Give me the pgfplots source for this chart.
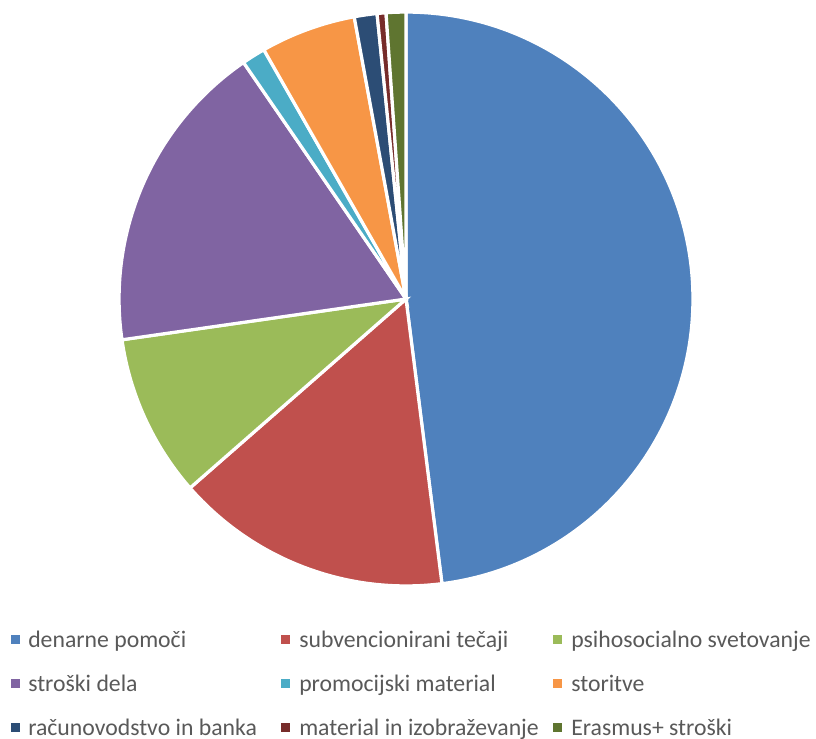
\documentclass[border=0pt]{standalone}
\usepackage{pgfplots}
\usepackage{pgfplotstable}
\pgfplotsset{compat=1.18}
\usepackage{fontspec}
\setmainfont{Carlito}

\definecolor{c0}{HTML}{4F81BD}
\definecolor{c1}{HTML}{C0504D}
\definecolor{c2}{HTML}{9BBB59}
\definecolor{c3}{HTML}{8064A2}
\definecolor{c4}{HTML}{4BACC6}
\definecolor{c5}{HTML}{F79646}
\definecolor{c6}{HTML}{2C4D75}
\definecolor{c7}{HTML}{772C2A}
\definecolor{c8}{HTML}{5F7530}
\definecolor{txt}{HTML}{595959}

% shares in percent, clockwise from 12 o'clock
\pgfplotstableread{
pct
48.00
15.56
9.17
17.69
1.33
5.36
1.28
0.50
1.11
}\pietable

\begin{document}
\begin{tikzpicture}
\begin{axis}[
    x=0.75pt, y=0.75pt,
    xmin=0, xmax=816, ymin=0, ymax=738,
    y dir=reverse,
    hide axis, clip=false,
    ]
\def\R{215.2pt}
\gdef\a{0}
\pgfplotsforeachungrouped \i in {0,...,8}{%
  \pgfplotstablegetelem{\i}{pct}\of\pietable
  \pgfmathsetmacro\b{\a+3.6*\pgfplotsretval}%
  \edef\temp{\noexpand\fill[c\i, draw=white, line width=2.4pt, line join=miter]
     (axis cs:406,299) -- ++({90-\a}:\R) arc[start angle={90-\a}, end angle={90-\b}, radius=\R] -- cycle;}%
  \temp
  \global\let\a=\b
}

\begin{scope}[every node/.style={anchor=base west, inner sep=0pt, text=txt, font=\fontsize{17.8}{20}\selectfont}]
  \fill[c0] (axis cs:11,635) rectangle (axis cs:19.5,643.5);
  \node at (axis cs:28,647) {denarne pomoči};
  \fill[c1] (axis cs:281,635) rectangle (axis cs:289.5,643.5);
  \node at (axis cs:299,647) {subvencionirani tečaji};
  \fill[c2] (axis cs:553,635) rectangle (axis cs:561.5,643.5);
  \node at (axis cs:571,647) {psihosocialno svetovanje};

  \fill[c3] (axis cs:11,679) rectangle (axis cs:19.5,687.5);
  \node at (axis cs:28,691) {stroški dela};
  \fill[c4] (axis cs:281,679) rectangle (axis cs:289.5,687.5);
  \node at (axis cs:299,691) {promocijski material};
  \fill[c5] (axis cs:553,679) rectangle (axis cs:561.5,687.5);
  \node at (axis cs:571,691) {storitve};

  \fill[c6] (axis cs:11,723) rectangle (axis cs:19.5,731.5);
  \node at (axis cs:28,735) {računovodstvo in banka};
  \fill[c7] (axis cs:281,723) rectangle (axis cs:289.5,731.5);
  \node at (axis cs:299,735) {material in izobraževanje};
  \fill[c8] (axis cs:553,723) rectangle (axis cs:561.5,731.5);
  \node at (axis cs:571,735) {Erasmus+ stroški};
\end{scope}
\coordinate (bl) at (axis cs:0,738);
\coordinate (tr) at (axis cs:816,0);
\end{axis}
\pgfresetboundingbox
\useasboundingbox (bl) rectangle (tr);
\end{tikzpicture}
\end{document}
